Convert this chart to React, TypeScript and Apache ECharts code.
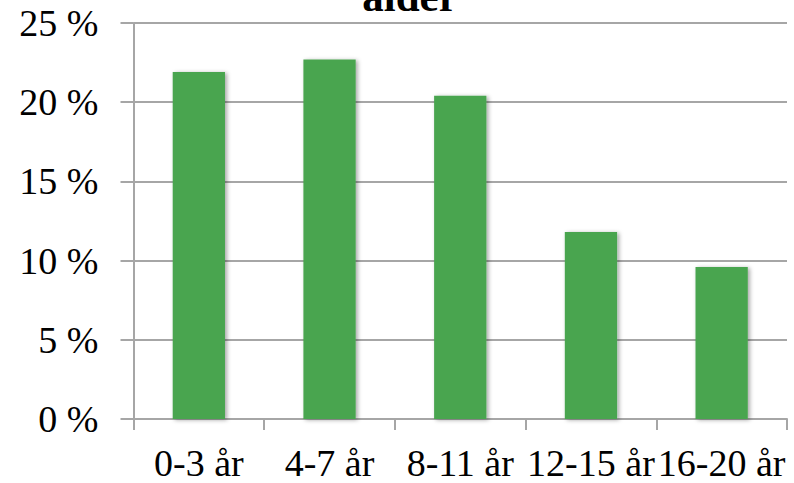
import React, { useEffect, useRef } from "react";
import * as echarts from "echarts";

const categories = ["0-3 år", "4-7 år", "8-11 år", "12-15 år", "16-20 år"];
const values = [21.9, 22.7, 20.4, 11.8, 9.6];
const titleText = "alder";

export default function App() {
  const ref = useRef<HTMLDivElement>(null);
  useEffect(() => {
    if (!ref.current) return;
    const chart = echarts.init(ref.current, null, { renderer: "svg" });
    const axisGrey = "#a6a6a6";
    chart.setOption({
      animation: false,
      backgroundColor: "#ffffff",
      graphic: [
        {
          type: "text",
          x: 410,
          y: -25,
          style: {
            text: titleText,
            font: "bold 43px 'Liberation Serif'",
            fill: "#000",
            textAlign: "center",
            textVerticalAlign: "top",
          },
        },
      ],
      grid: { left: 133.5, right: 7, top: 23, bottom: 64, containLabel: false },
      xAxis: {
        type: "category",
        data: categories,
        axisLine: { lineStyle: { color: axisGrey, width: 2 } },
        axisTick: { show: true, length: 11, lineStyle: { color: axisGrey, width: 2 } },
        axisLabel: {
          color: "#000",
          fontFamily: "Liberation Serif",
          fontSize: 38,
          margin: 25,
          interval: 0,
        },
      },
      yAxis: {
        type: "value",
        min: 0,
        max: 25,
        interval: 5,
        axisLine: { show: true, lineStyle: { color: axisGrey, width: 2 } },
        axisTick: { show: true, length: 13, lineStyle: { color: axisGrey, width: 2 } },
        splitLine: { show: true, lineStyle: { color: axisGrey, width: 2 } },
        axisLabel: {
          color: "#000",
          fontFamily: "Liberation Serif",
          fontSize: 38,
          margin: 35,
          formatter: "{value} %",
        },
      },
      series: [
        {
          type: "bar",
          data: values,
          barWidth: "40%",
          itemStyle: {
            color: "#4aa54f",
            shadowColor: "rgba(0,0,0,0.35)",
            shadowBlur: 4,
            shadowOffsetX: 2,
            shadowOffsetY: 1,
          },
        },
      ],
    });
    return () => chart.dispose();
  }, []);
  return (
    <div
      ref={ref}
      style={{ position: "fixed", left: 0, top: 0, width: 794, height: 483, background: "#fff" }}
    />
  );
}
